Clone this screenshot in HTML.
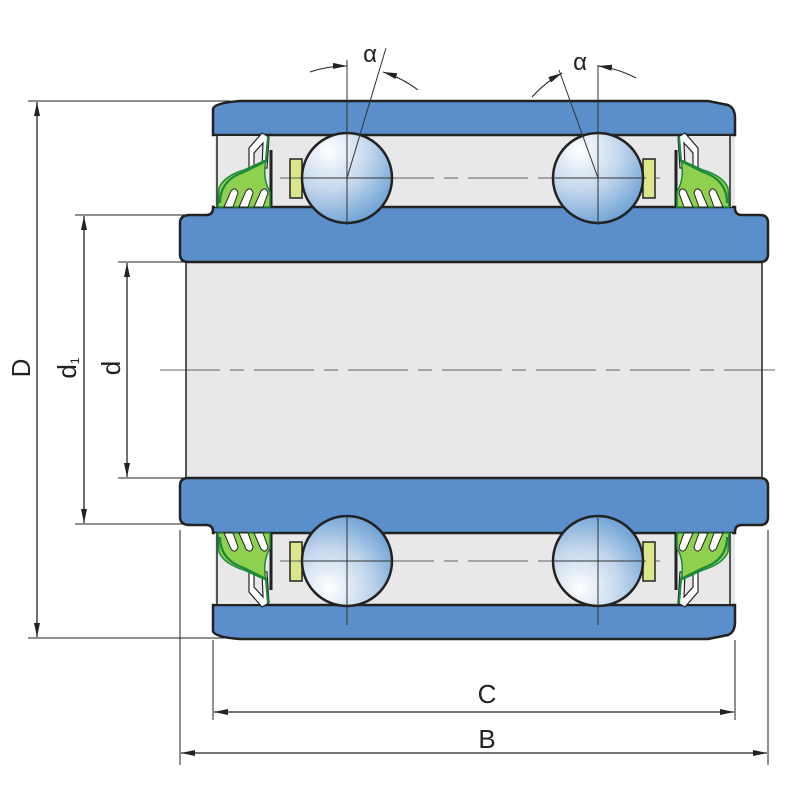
<!DOCTYPE html>
<html><head><meta charset="utf-8"><style>html,body{margin:0;padding:0;background:#fff}svg{display:block}</style></head>
<body>
<svg width="800" height="800" viewBox="0 0 800 800" xmlns="http://www.w3.org/2000/svg" font-family="Liberation Sans, sans-serif">
<defs>
<radialGradient id="bg" cx="0.3" cy="0.2" r="1">
<stop offset="0" stop-color="#ffffff"/><stop offset="0.45" stop-color="#c2d6ec"/><stop offset="1" stop-color="#4f8fcc"/></radialGradient>
<radialGradient id="bg2" cx="0.3" cy="0.8" r="1">
<stop offset="0" stop-color="#ffffff"/><stop offset="0.45" stop-color="#c2d6ec"/><stop offset="1" stop-color="#4f8fcc"/></radialGradient>
<marker id="ar" markerWidth="14" markerHeight="8" refX="14" refY="4" orient="auto" markerUnits="userSpaceOnUse"><path d="M0,1 L14,4 L0,7 Z" fill="#222"/></marker>
<g id="seal">
<rect x="215" y="136" width="55" height="71" fill="#e8e8e8"/>
<line x1="217" y1="136" x2="217" y2="207" stroke="#222" stroke-width="1.5"/>
<line x1="271" y1="150" x2="271" y2="207" stroke="#222" stroke-width="3"/>
<path d="M249,148 L262,133 L269,137 L267,168 L262,168 L263,143 L254,153 L254,172 L249,172 Z" fill="#fff" stroke="#222" stroke-width="1.2"/>
<path d="M218,207 L219,188 Q224,176 244,170 L266,160 Q262,178 270,192 L270,207 Z" fill="#8fd14f" stroke="#1a8a3a" stroke-width="1.5"/>
<path d="M224,207 L231,191 Q236,186 238,193 L233,207 Z M239,207 L246,191 Q251,186 253,193 L248,207 Z M254,207 L261,191 Q266,186 268,193 L263,207 Z" fill="#fff" stroke="#222" stroke-width="1"/>
<path d="M220,203 Q220,180 244,172 L266,161 L268,137" fill="none" stroke="#1a8a3a" stroke-width="2.2"/>
</g>
<g id="half">
<rect x="215" y="135" width="520" height="73" fill="#e8e8e8"/>
<path d="M213,109 Q214,103 240,101 L708,101 L728,105 Q735,108 735,118 L735,135 L213,135 Z" fill="#5a8fcb" stroke="#222" stroke-width="2.5"/>
<path d="M190,215 L206,215 Q213,215 213,208 L213,207 L735,207 L735,208 Q735,215 742,215 L760,215 Q768,215 768,223 L768,254 Q768,262 760,262 L188,262 Q180,262 180,254 L180,223 Q180,215 190,215 Z" fill="#5a8fcb" stroke="#222" stroke-width="2.5"/>
<rect x="290" y="159" width="12" height="39" fill="#dbe58a" stroke="#222" stroke-width="1.5"/>
<rect x="643" y="159" width="12" height="39" fill="#dbe58a" stroke="#222" stroke-width="1.5"/>
<use href="#seal"/>
<use href="#seal" transform="translate(947,0) scale(-1,1)"/>
</g>
</defs>
<rect x="186" y="262" width="576" height="216" fill="#e8e8e8"/>
<line x1="186" y1="262" x2="186" y2="478" stroke="#222" stroke-width="1.5"/>
<line x1="762" y1="262" x2="762" y2="478" stroke="#222" stroke-width="1.5"/>
<use href="#half"/>
<use href="#half" transform="translate(0,740) scale(1,-1)"/>
<g stroke="#333" stroke-width="0.8" stroke-dasharray="60,10,14,10">
<line x1="160" y1="370" x2="775" y2="370"/>
<line x1="280" y1="178" x2="660" y2="178"/>
<line x1="280" y1="561" x2="660" y2="561"/>
</g>
<circle cx="347" cy="178" r="45" fill="url(#bg)" stroke="#222" stroke-width="2.5"/>
<circle cx="598" cy="178" r="45" fill="url(#bg)" stroke="#222" stroke-width="2.5"/>
<circle cx="347" cy="561" r="45" fill="url(#bg2)" stroke="#222" stroke-width="2.5"/>
<circle cx="598" cy="561" r="45" fill="url(#bg2)" stroke="#222" stroke-width="2.5"/>
<g stroke="#333" stroke-width="1">
<line x1="347" y1="60" x2="347" y2="225"/><line x1="598" y1="65" x2="598" y2="225"/>
<line x1="347" y1="515" x2="347" y2="625"/><line x1="598" y1="515" x2="598" y2="625"/>
<line x1="302" y1="178" x2="392" y2="178"/><line x1="553" y1="178" x2="643" y2="178"/>
<line x1="302" y1="561" x2="392" y2="561"/><line x1="553" y1="561" x2="643" y2="561"/>
<line x1="347" y1="178" x2="386" y2="48"/>
<line x1="598" y1="178" x2="559" y2="70"/>
</g>
<path d="M310,72 A112,112 0 0,1 347,66" fill="none" stroke="#222" stroke-width="1" marker-end="url(#ar)"/>
<path d="M418,90 A112,112 0 0,0 383,72" fill="none" stroke="#222" stroke-width="1" marker-end="url(#ar)"/>
<path d="M532,97 A112,112 0 0,1 562,73" fill="none" stroke="#222" stroke-width="1" marker-end="url(#ar)"/>
<path d="M636,78 A112,112 0 0,0 598,66" fill="none" stroke="#222" stroke-width="1" marker-end="url(#ar)"/>
<text x="370" y="62" font-size="24" text-anchor="middle" fill="#222">α</text>
<text x="580" y="70" font-size="24" text-anchor="middle" fill="#222">α</text>
<g stroke="#222" stroke-width="1">
<line x1="28" y1="101" x2="230" y2="101"/><line x1="28" y1="638" x2="230" y2="638"/>
<line x1="75" y1="215" x2="190" y2="215"/><line x1="75" y1="524" x2="190" y2="524"/>
<line x1="118" y1="262" x2="186" y2="262"/><line x1="118" y1="478" x2="186" y2="478"/>
<line x1="180" y1="530" x2="180" y2="765"/><line x1="768" y1="530" x2="768" y2="765"/>
<line x1="213" y1="640" x2="213" y2="720"/><line x1="735" y1="640" x2="735" y2="720"/>
</g>
<g stroke="#222" stroke-width="1.3">
<line x1="37" y1="370" x2="37" y2="102" marker-end="url(#ar)"/><line x1="37" y1="370" x2="37" y2="637" marker-end="url(#ar)"/>
<line x1="84" y1="370" x2="84" y2="216" marker-end="url(#ar)"/><line x1="84" y1="370" x2="84" y2="523" marker-end="url(#ar)"/>
<line x1="127" y1="370" x2="127" y2="263" marker-end="url(#ar)"/><line x1="127" y1="370" x2="127" y2="477" marker-end="url(#ar)"/>
<line x1="474" y1="712" x2="214" y2="712" marker-end="url(#ar)"/><line x1="474" y1="712" x2="734" y2="712" marker-end="url(#ar)"/>
<line x1="474" y1="753" x2="181" y2="753" marker-end="url(#ar)"/><line x1="474" y1="753" x2="767" y2="753" marker-end="url(#ar)"/>
</g>
<g fill="#222" font-size="26">
<text transform="translate(30,368) rotate(-90)" text-anchor="middle">D</text>
<text transform="translate(76,368) rotate(-90)" text-anchor="middle">d<tspan font-size="12" dy="3">1</tspan></text>
<text transform="translate(120,368) rotate(-90)" text-anchor="middle">d</text>
<text x="487" y="703" text-anchor="middle">C</text>
<text x="487" y="748" text-anchor="middle">B</text>
</g>
</svg>
</body></html>
